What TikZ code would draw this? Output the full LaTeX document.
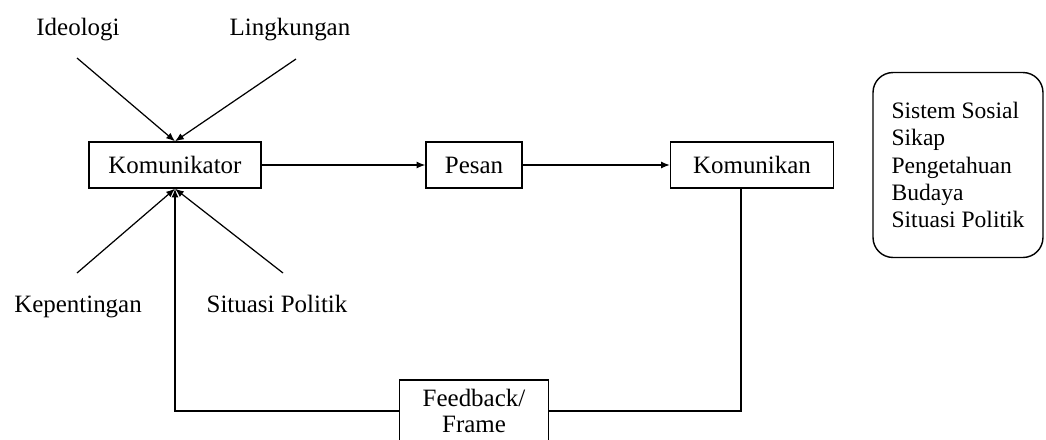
\documentclass[tikz,border=0pt]{standalone}
\usepackage{fontspec}
\setmainfont{Liberation Serif}
\usetikzlibrary{arrows.meta}

\begin{document}
\begin{tikzpicture}[
    x=0.02cm, y=-0.02cm,
    font=\fontsize{14.2}{15}\selectfont,
    box/.style={rectangle, draw, line width=0.8pt, minimum height=0.92cm, inner sep=2pt},
    factor/.style={inner sep=0pt, anchor=base},
    context/.style={rectangle, draw, rounded corners=0.4cm, line width=0.8pt, align=left,
        font=\fontsize{13.4}{15.6}\selectfont},
    arrow/.style={-{Latex[length=5pt,width=4pt]}, line width=0.7pt},
    link/.style={line width=0.7pt}
]
\useasboundingbox (0,0) rectangle (1046,440);

% Communication chain
\node[box, minimum width=3.44cm] (kom) at (175,165) {Komunikator};
\node[box, minimum width=1.92cm] (pesan) at (474,165) {Pesan};
\node[box, minimum width=3.26cm] (kan) at (752,165) {Komunikan};
\node[box, minimum width=2.98cm, minimum height=1.24cm, align=center] (fb) at (474,411) {Feedback/\\Frame};

% Factors acting on the communicator
\node[factor] (ideo) at (78,35) {Ideologi};
\node[factor] (ling) at (290,35) {Lingkungan};
\node[factor] (kep) at (78,312) {Kepentingan};
\node[factor] (sit) at (277,312) {Situasi Politik};

\coordinate (ideo-end) at (77,58);
\coordinate (ling-end) at (296,59);
\coordinate (kep-end) at (77,273);
\coordinate (sit-end) at (283,273);

\draw[arrow] (ideo-end) -- (kom.north);
\draw[arrow] (ling-end) -- (kom.north);
\draw[arrow] (kep-end) -- (kom.south);
\draw[arrow] (sit-end) -- (kom.south);

% Flow and feedback loop
\draw[arrow] (kom) -- (pesan);
\draw[arrow] (pesan) -- (kan);
\draw[link] ([xshift=-0.22cm]kan.south) |- (fb.east);
\draw[arrow] (fb.west) -| (kom.south);

% Context of the receiver
\node[context, minimum width=3.4cm, minimum height=3.7cm] (ctx) at (958,165) {Sistem Sosial\\Sikap\\Pengetahuan\\Budaya\\Situasi Politik};

\end{tikzpicture}
\end{document}
